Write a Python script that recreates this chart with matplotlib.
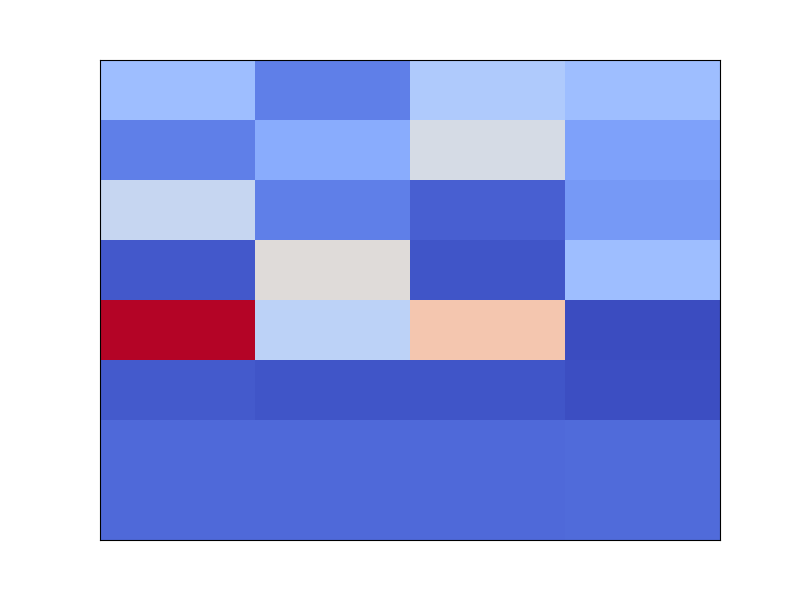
import matplotlib
matplotlib.use('Agg')
import matplotlib.pyplot as plt
import numpy as np

# cell values, top row first (scaled 0..1)
row0 = [0.30, 0.12, 0.35, 0.30]
row1 = [0.12, 0.24, 0.47, 0.21]
row2 = [0.42, 0.12, 0.045, 0.185]
row3 = [0.03, 0.51, 0.02, 0.30]
row4 = [1.00, 0.39, 0.62, 0.00]
row5 = [0.035, 0.02, 0.022, 0.005]
row6 = [0.07, 0.07, 0.07, 0.072]
row7 = [0.07, 0.07, 0.07, 0.071]

data = np.array([row0, row1, row2, row3, row4, row5, row6, row7])

fig = plt.figure(figsize=(8, 6), dpi=100)
ax = fig.add_subplot(111)
fig.subplots_adjust(left=0.125, right=0.9, bottom=0.1, top=0.9)

ax.pcolormesh(data[::-1], cmap='coolwarm', vmin=0, vmax=1)
ax.set_xlim(0, data.shape[1])
ax.set_ylim(0, data.shape[0])
ax.set_xticks([])
ax.set_yticks([])

plt.savefig('out.png', dpi=100)
